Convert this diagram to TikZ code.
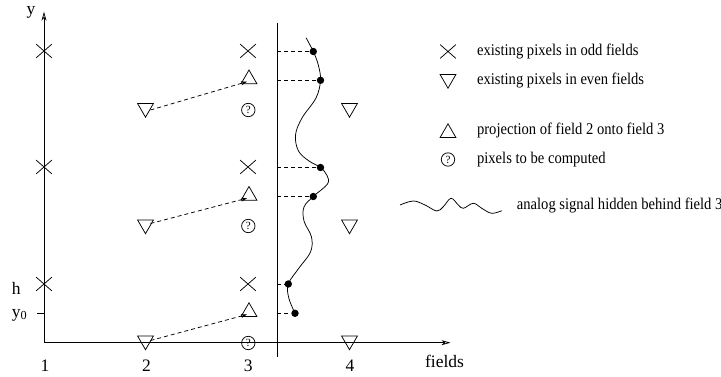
\documentclass[tikz,border=0pt]{standalone}
\usepackage{fontspec}
\setmainfont{Liberation Serif}
\usetikzlibrary{shapes.geometric,shapes.misc,arrows.meta,calc}
\newcommand\tallertext[1]{\scalebox{1}[1.12]{#1}}
\begin{document}
\begin{tikzpicture}[x=1pt,y=-1pt,
  line width=0.75pt,
  xmark/.style={draw, cross out, minimum width=15pt, minimum height=13pt, inner sep=0pt},
  upt/.style={draw, regular polygon, regular polygon sides=3, minimum size=18.4pt, inner sep=0pt},
  dnt/.style={upt, shape border rotate=180},
  qmark/.style={draw, circle, minimum size=13.4pt, inner sep=0pt, font=\fontsize{11}{11}\selectfont},
  sdot/.style={circle, fill, inner sep=0pt, minimum size=7.4pt},
  hdash/.style={dash pattern=on 4pt off 3pt},
  proj/.style={hdash, -{Stealth[length=6pt,width=4pt]}},
  axisline/.style={-{Stealth[open,length=9pt,width=5pt,inset=2.5pt]}},
  lab/.style={font=\fontsize{17.5}{20}\selectfont, inner sep=0pt},
  leg/.style={font=\fontsize{14.6}{17}\selectfont, anchor=base west, inner sep=0pt}]
\useasboundingbox (0,0) rectangle (721,377);
% axes
\coordinate (o) at (44,342.7);
\coordinate (ytip) at (44,11.7);
\coordinate (xtip) at (450.5,342.7);
\draw[axisline] (o) -- (ytip);
\draw[axisline] (o) -- (xtip);
\node[lab, anchor=base] (ylab) at (31,15) {y};
\node[lab, anchor=base] (flab) at (444.5,367) {fields};
\node[lab, anchor=base] (n1) at (45,371.5) {1};
\node[lab, anchor=base] (n2) at (146.5,371.5) {2};
\node[lab, anchor=base] (n3) at (248.3,371.5) {3};
\node[lab, anchor=base] (n4) at (350,371.5) {4};
\node[lab, anchor=base west] (hlab) at (11.5,294.5) {h};
\node[lab, anchor=base west] (y0lab) at (11.5,317) {y\textsubscript{0}};
\coordinate (y0a) at (37,313.3);
\coordinate (y0b) at (44,313.3);
\draw (y0a) -- (y0b);
% field 3 screen
\coordinate (vtop) at (277,22.7);
\coordinate (vbot) at (277,356.7);
\draw (vtop) -- (vbot);
% field 1
\node[xmark] (a1) at (44,51) {};
\node[xmark] (a2) at (44,167) {};
\node[xmark] (a3) at (44,284) {};
% field 2
\node[dnt] (b1) at (145.5,108) {};
\node[dnt] (b2) at (145.5,224.5) {};
\node[dnt] (b3) at (145.5,340.5) {};
% field 3
\node[xmark] (c1) at (248,51) {};
\node[xmark] (c2) at (248,167) {};
\node[xmark] (c3) at (248,284) {};
\node[upt] (u1) at (249,79.2) {};
\node[upt] (u2) at (249,195.7) {};
\node[upt] (u3) at (249,312) {};
\node[qmark] (q1) at (248.3,110) {?};
\node[qmark] (q2) at (248.3,226) {?};
\node[qmark] (q3) at (248.3,343) {?};
% field 4
\node[dnt] (d1) at (349.5,108) {};
\node[dnt] (d2) at (349.5,224.5) {};
\node[dnt] (d3) at (349.5,340.5) {};
% projections
\draw[proj] ($(b1.center)+(5,2)$) -- ($(u1.center)+(-2,2.5)$);
\draw[proj] ($(b2.center)+(5,-1)$) -- ($(u2.center)+(-2,2.5)$);
\draw[proj] ($(b3.center)+(5,0)$) -- ($(u3.center)+(-2,2.5)$);
% analog signal samples
\node[sdot] (p1) at (313.3,51.5) {};
\node[sdot] (p2) at (320.5,80.3) {};
\node[sdot] (p3) at (320.5,167.5) {};
\node[sdot] (p4) at (313.3,196.5) {};
\node[sdot] (p5) at (288.3,284) {};
\node[sdot] (p6) at (295,313.3) {};
\coordinate (s0) at (306,37.7);
\draw plot[smooth, tension=0.6] coordinates {(s0) (p1.center) (318.3,65) (p2.center) (316,98) (302,118) (295.5,135) (298.5,151) (309,161) (p3.center) (327,175.5) (327.5,184) (p4.center) (304,207) (304,221) (311.5,237) (310.5,252) (299,268) (p5.center) (288.8,298) (p6.center)};
\foreach \p in {p1,p2,p3,p4,p5,p6} \draw[hdash] (vtop |- \p.center) -- (\p);
% legend
\node[xmark] (l1) at (448,51.5) {};
\node[dnt] (l2) at (448,79) {};
\node[upt] (l3) at (448,133) {};
\node[qmark] (l4) at (448,159.5) {?};
\node[leg] (t1) at (476.7,55.5) {\tallertext{existing pixels in odd fields}};
\node[leg] (t2) at (476.7,84.5) {\tallertext{existing pixels in even fields}};
\node[leg] (t3) at (476.7,135) {\tallertext{projection of field 2 onto field 3}};
\node[leg] (t4) at (476.7,164) {\tallertext{pixels to be computed}};
\draw plot[smooth, tension=0.6] coordinates {(400,205) (413.3,201) (425,205) (436.7,211) (443.3,206.7) (451,198.3) (458.3,205) (463.3,208.3) (473.3,203.3) (481.7,208.3) (491.7,213.3) (501.7,210.7)};
\node[leg] (t5) at (516.5,210) {\tallertext{analog signal hidden behind field 3}};
\end{tikzpicture}
\end{document}
